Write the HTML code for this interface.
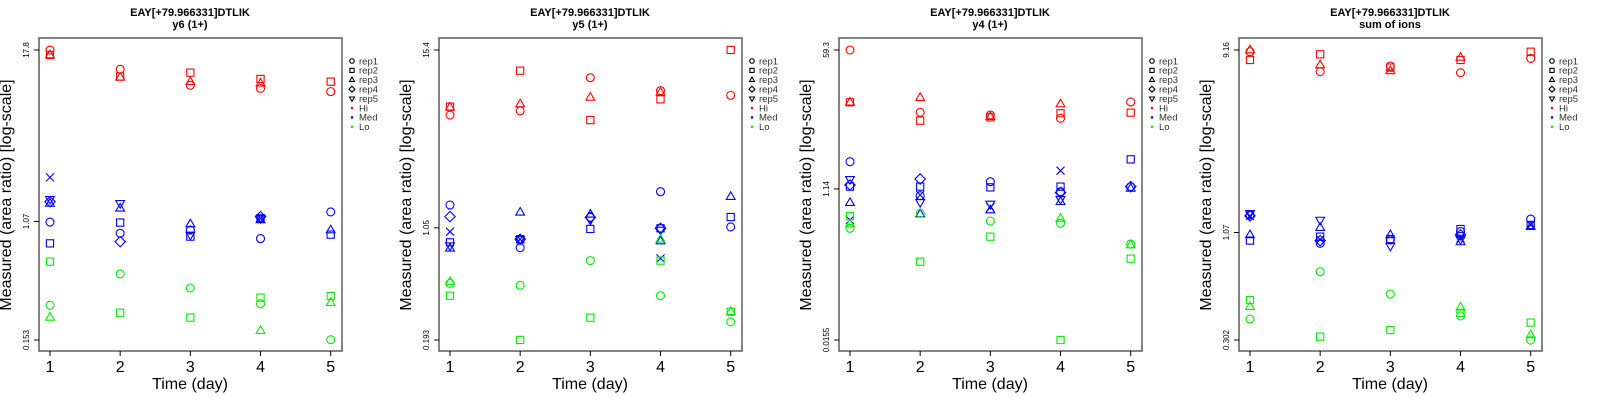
<!DOCTYPE html>
<html><head><meta charset="utf-8"><style>
html,body{margin:0;padding:0;background:#fff;}
svg{display:block;font-family:"Liberation Sans",sans-serif;}
</style></head><body>
<svg id="chart" width="1600" height="400" viewBox="0 0 1600 400" xmlns="http://www.w3.org/2000/svg"></svg>
<script>
// Data: log10(measured area ratio), days 1..5, null = missing
const days = [1, 2, 3, 4, 5];
const panelTitles = ["y6 (1+)", "y5 (1+)", "y4 (1+)", "sum of ions"];
const yTickLabels = [["0.153","1.07","17.8"],["0.193","1.05","15.4"],["0.0155","1.14","59.3"],["0.302","1.07","9.16"]];
const yTickValues = [[0.153,1.07,17.8],[0.193,1.05,15.4],[0.0155,1.14,59.3],[0.302,1.07,9.16]];
const groups = ["Hi","Med","Lo"];
const shapes = ["circle","square","triangle","diamond","down","x"];
const legendLabels = ["rep1","rep2","rep3","rep4","rep5","Hi","Med","Lo"];

// panel 1: y6
const p1Hi = [[1.250,1.113,0.999,0.977,0.954],[1.215,1.061,1.089,1.044,1.025],[1.215,1.056,1.025,1.013,null],null,null,null];
const p1Med = [[0.025,-0.055,-0.032,-0.093,0.097],[-0.127,0.021,-0.079,0.051,-0.065],[0.158,0.123,0.011,0.040,-0.032],[0.170,-0.115,null,0.063,null],[0.187,0.158,-0.067,0.051,null],[0.343,null,null,0.051,null]];
const p1Lo = [[-0.568,-0.345,-0.445,-0.557,-0.813],[-0.257,-0.621,-0.656,-0.514,-0.502],[-0.654,null,null,-0.749,-0.549],null,null,null];
// panel 2: y5
const p2Hi = [[0.761,0.788,1.006,0.921,0.890],[0.816,1.052,0.728,0.864,1.188],[0.812,0.833,0.877,0.910,null],null,null,null];
const p2Med = [[0.171,-0.109,0.090,0.258,0.027],[-0.074,-0.054,0.014,0.018,0.092],[-0.113,0.123,0.110,-0.065,0.226],[0.095,-0.054,0.090,0.018,null],[-0.096,-0.054,0.073,0.007,null],[-0.004,-0.054,null,-0.179,null]];
const p2Lo = [[-0.343,-0.356,-0.194,-0.424,-0.596],[-0.424,-0.714,-0.568,-0.194,-0.529],[-0.332,null,null,-0.054,-0.529],null,null,null];
// panel 3: y4
const p3Hi = [[1.773,1.003,0.970,0.929,1.131],[1.127,0.900,0.941,0.991,0.999],[1.127,1.184,0.949,1.106,null],null,null,null];
const p3Med = [[0.393,-0.027,0.146,0.023,0.085],[0.085,0.085,0.076,0.085,0.422],[-0.113,-0.253,-0.204,-0.101,0.064],[0.105,0.179,null,0.011,0.085],[0.175,-0.109,-0.129,-0.072,null],[-0.327,-0.018,-0.171,0.282,null]];
const p3Lo = [[-0.430,-0.245,-0.340,-0.368,-0.624],[-0.278,-0.842,-0.533,-1.810,-0.805],[-0.377,null,null,-0.307,-0.636],null,null,null];
// panel 4: sum of ions
const p4Hi = [[0.953,0.851,0.880,0.846,0.919],[0.911,0.940,0.872,0.911,0.953],[0.962,0.885,0.855,0.924,null],null,null,null];
const p4Med = [[0.119,-0.026,-0.009,0.034,0.098],[-0.012,0.008,-0.004,0.047,0.068],[0.017,0.054,0.017,-0.019,0.059],[0.114,-0.012,null,0.017,null],[0.127,0.093,-0.040,-0.006,null],[0.114,-0.006,null,-0.001,0.068]];
const p4Lo = [[-0.413,-0.171,-0.285,-0.397,-0.520],[-0.316,-0.503,-0.469,-0.381,-0.431],[-0.350,null,null,-0.353,-0.494],null,null,null];

const panelData = [[p1Hi,p1Med,p1Lo],[p2Hi,p2Med,p2Lo],[p3Hi,p3Med,p3Lo],[p4Hi,p4Med,p4Lo]];
const colors = {Hi:"#ff0000",Med:"#0000ff",Lo:"#00ee00"};

const NS = "http://www.w3.org/2000/svg";
const svg = document.getElementById("chart");
function mk(tag, attrs, parent, text){
  const e = document.createElementNS(NS, tag);
  for (const k in attrs) e.setAttribute(k, attrs[k]);
  if (text !== undefined) e.textContent = text;
  (parent || svg).appendChild(e);
  return e;
}
function marker(g, shape, cx, cy, r, col){
  let e;
  if (shape === "circle") e = mk("circle",{cx:cx,cy:cy,r:r,fill:"none",stroke:col,"stroke-width":1.1},g);
  else if (shape === "square") e = mk("rect",{x:cx-r*0.9,y:cy-r*0.9,width:r*1.8,height:r*1.8,fill:"none",stroke:col,"stroke-width":1.1},g);
  else if (shape === "triangle") e = mk("polygon",{points:`${cx},${cy-r*1.2} ${cx-r*1.1},${cy+r*0.7} ${cx+r*1.1},${cy+r*0.7}`,fill:"none",stroke:col,"stroke-width":1.1},g);
  else if (shape === "diamond") e = mk("polygon",{points:`${cx},${cy-r*1.3} ${cx+r*1.3},${cy} ${cx},${cy+r*1.3} ${cx-r*1.3},${cy}`,fill:"none",stroke:col,"stroke-width":1.1},g);
  else if (shape === "down") e = mk("polygon",{points:`${cx},${cy+r*1.2} ${cx-r*1.1},${cy-r*0.7} ${cx+r*1.1},${cy-r*0.7}`,fill:"none",stroke:col,"stroke-width":1.1},g);
  else e = mk("path",{d:`M${cx-r},${cy-r}L${cx+r},${cy+r}M${cx-r},${cy+r}L${cx+r},${cy-r}`,fill:"none",stroke:col,"stroke-width":1.1},g);
  return e;
}

for (let p = 0; p < 4; p++){
  const ox = 400*p;
  const g = mk("g",{});
  
  
  const L0 = Math.log10(yTickValues[p][0]), L1 = Math.log10(yTickValues[p][2]);
  const xs = d => ox + 50 + (d-1)*(330.7-50)/4;
  const ys = L => 340 - (L - L0)/(L1 - L0)*290;

  const t1 = mk("text",{x:ox+190,y:16,"text-anchor":"middle","font-size":11,"font-weight":"bold",fill:"#000"},g,"EAY[+79.966331]DTLIK");
  
  
  const t2 = mk("text",{x:ox+190,y:28,"text-anchor":"middle","font-size":11,"font-weight":"bold",fill:"#000"},g,panelTitles[p]);
  
  

  const box = mk("rect",{x:ox+39,y:38,width:303,height:313,fill:"none",stroke:"#666","stroke-width":1.6},g);
  
  

  days.forEach(d => {
    const x = xs(d);
    mk("line",{x1:x,y1:351,x2:x,y2:356,stroke:"#000","stroke-width":1},g);
    const tl = mk("text",{x:x,y:372,"text-anchor":"middle","font-size":16,fill:"#000"},g,String(d));
    
    
  });
  const xt = mk("text",{x:ox+190,y:389,"text-anchor":"middle","font-size":16,fill:"#000"},g,"Time (day)");
  
  

  yTickValues[p].forEach((v,i) => {
    const y = ys(Math.log10(v));
    mk("line",{x1:ox+34,y1:y,x2:ox+39,y2:y,stroke:"#000","stroke-width":1},g);
    const yl = mk("text",{x:0,y:0,"text-anchor":"middle","font-size":8,fill:"#000",transform:`translate(${ox+29},${y}) rotate(-90)`},g,yTickLabels[p][i]);
    
    
  });
  const yt = mk("text",{x:0,y:0,"text-anchor":"middle","font-size":16,fill:"#000",transform:`translate(${ox+11},${195}) rotate(-90)`},g,"Measured (area ratio) [log-scale]");
  
  

  groups.forEach((grp, gi) => {
    const series = panelData[p][gi];
    shapes.forEach((sh, si) => {
      const vals = series[si];
      if (!vals) return;
      vals.forEach((v, di) => {
        if (v === null) return;
        const m = marker(g, sh, xs(days[di]), ys(v), 4.0, colors[grp]);
        
        
      });
    });
  });

  const lg = mk("g",{},g);
  
  
  legendLabels.forEach((lab, i) => {
    const y = 61 + i*9.4;
    if (i < 5) marker(lg, shapes[i], ox+352, y, 2.3, "#000");
    else mk("circle",{cx:ox+352,cy:y,r:1.3,fill:colors[lab]},lg);
    const le = mk("text",{x:ox+359,y:y+3.3,"font-size":9.5,fill:"#333"},lg,lab);
    
    
  });
}
</script>
</body></html>
